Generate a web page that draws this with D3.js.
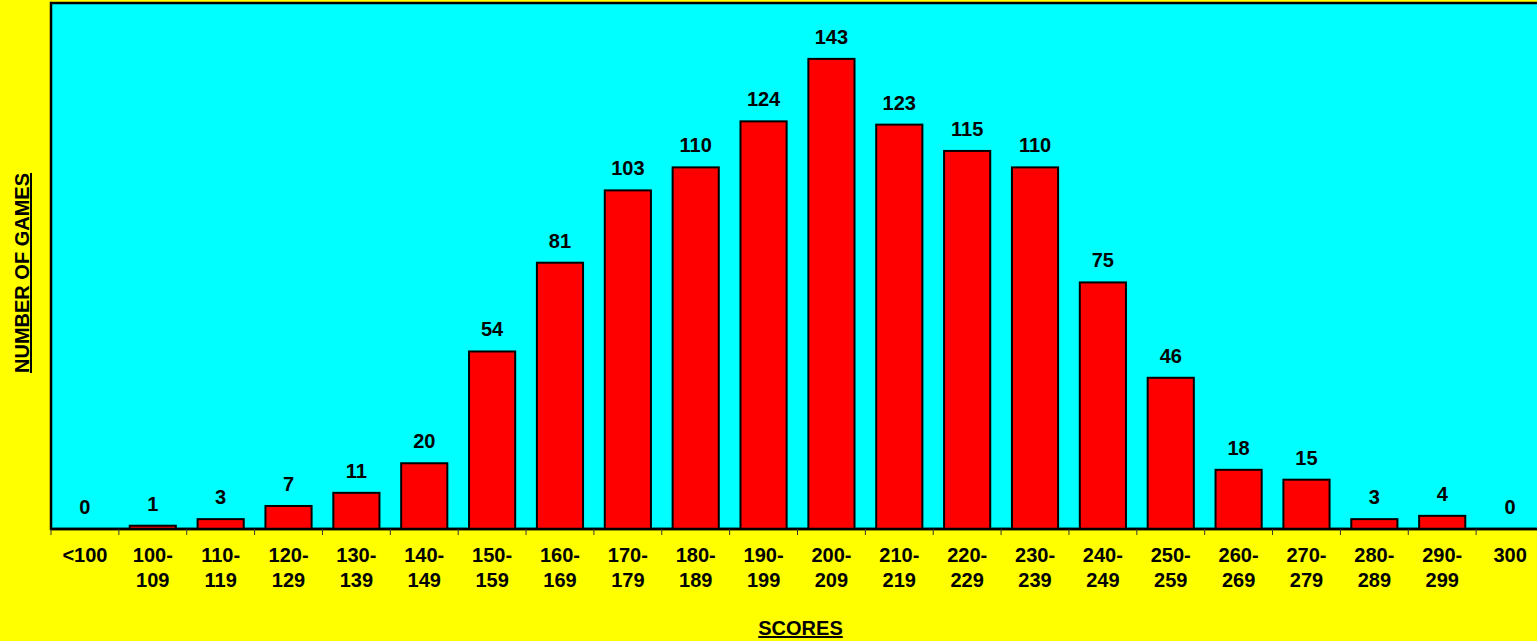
<!DOCTYPE html>
<html>
<head>
<meta charset="utf-8">
<script src="https://cdn.jsdelivr.net/npm/d3@7"></script>
<style>
  html, body { margin: 0; padding: 0; background: #ffff00; overflow: hidden; }
  text { font-family: "Liberation Sans", Arial, sans-serif; font-weight: bold; fill: #000; }
</style>
</head>
<body>
<svg id="chart" width="1537" height="641"></svg>
<script>
// score ranges (two-line tick labels)
const categories = ["<100", "100-109", "110-119", "120-129", "130-139", "140-149", "150-159",
  "160-169", "170-179", "180-189", "190-199", "200-209", "210-219", "220-229", "230-239",
  "240-249", "250-259", "260-269", "270-279", "280-289", "290-299", "300"];
const games = [0, 1, 3, 7, 11, 20, 54, 81, 103, 110, 124, 143, 123, 115, 110, 75, 46, 18, 15, 3, 4, 0];
const yMax = 160;

const width = 1537, height = 641;
const margin = { top: 3, right: -7, bottom: 112, left: 51 }; // plot runs off the right edge

const svg = d3.select("#chart");

const x = d3.scaleBand()
  .domain(categories)
  .range([margin.left, width - margin.right])
  .paddingInner(0.32)
  .paddingOuter(0.16);

const y = d3.scaleLinear()
  .domain([0, yMax])
  .range([height - margin.bottom, margin.top]);

// plot background
svg.append("rect")
  .attr("x", margin.left)
  .attr("y", margin.top)
  .attr("width", width - margin.right - margin.left + 10)
  .attr("height", y(0) - margin.top)
  .attr("fill", "#00ffff")
  .attr("stroke", "#000")
  .attr("stroke-width", 2.5);

// bars
svg.append("g")
  .selectAll("rect")
  .data(games)
  .join("rect")
  .attr("x", (d, i) => x(categories[i]))
  .attr("y", d => y(d))
  .attr("width", x.bandwidth())
  .attr("height", d => y(0) - y(d))
  .attr("fill", "#ff0000")
  .attr("stroke", "#000")
  .attr("stroke-width", 2)
  .attr("display", d => d === 0 ? "none" : null);

// value labels
svg.append("g")
  .selectAll("text")
  .data(games)
  .join("text")
  .attr("x", (d, i) => x(categories[i]) + x.bandwidth() / 2)
  .attr("y", d => y(d) - 15)
  .attr("text-anchor", "middle")
  .style("font-size", "20px")
  .text(d => d);

// x axis: ticks at band boundaries
const step = x.step();
const x0 = margin.left;
const axis = svg.append("g");
axis.append("line")
  .attr("x1", x0).attr("x2", width + 10)
  .attr("y1", y(0)).attr("y2", y(0))
  .attr("stroke", "#000").attr("stroke-width", 2.5);
axis.selectAll("line.tick")
  .data(d3.range(categories.length + 1))
  .join("line")
  .attr("class", "tick")
  .attr("x1", i => x0 + i * step).attr("x2", i => x0 + i * step)
  .attr("y1", y(0)).attr("y2", y(0) + 6)
  .attr("stroke", "#333").attr("stroke-width", 1);

const tickText = axis.selectAll("text")
  .data(categories)
  .join("text")
  .attr("text-anchor", "middle")
  .style("font-size", "20px")
  .attr("transform", d => `translate(${x(d) + x.bandwidth() / 2},${y(0) + 33})`);
tickText.each(function (d) {
  const parts = d.includes("-") ? [d.split("-")[0] + "-", d.split("-")[1]] : [d];
  d3.select(this).selectAll("tspan")
    .data(parts)
    .join("tspan")
    .attr("x", 0)
    .attr("dy", (p, i) => i === 0 ? 0 : 25)
    .text(p => p);
});

// axis titles
svg.append("text")
  .attr("x", (margin.left + width - margin.right) / 2 + 3)
  .attr("y", 635)
  .attr("text-anchor", "middle")
  .style("font-size", "20px")
  .style("text-decoration", "underline")
  .text("SCORES");

svg.append("text")
  .attr("transform", "translate(29,273) rotate(-90)")
  .attr("text-anchor", "middle")
  .style("font-size", "20px")
  .style("text-decoration", "underline")
  .text("NUMBER OF GAMES");
</script>
</body>
</html>
